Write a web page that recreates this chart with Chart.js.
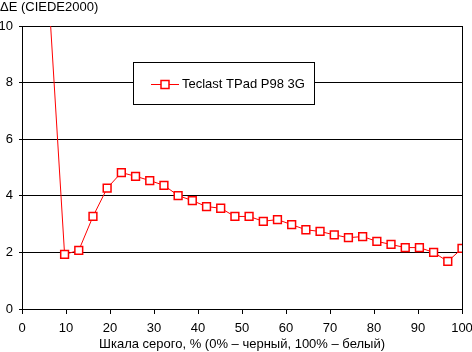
<!DOCTYPE html>
<html><head><meta charset="utf-8">
<script src="https://cdn.jsdelivr.net/npm/chart.js@4"></script>
<style>html,body{margin:0;padding:0;background:#fff}#wrap{width:472px;height:352px}</style>
</head><body><div id="wrap"><canvas id="c" width="472" height="352"></canvas></div>
<script>
const grayLevels = [6.45, 9.68, 12.9, 16.13, 19.35, 22.58, 25.81, 29.03, 32.26, 35.48, 38.71, 41.94, 45.16, 48.39, 51.61, 54.84, 58.06, 61.29, 64.52, 67.74, 70.97, 74.19, 77.42, 80.65, 83.87, 87.1, 90.32, 93.55, 96.77, 100];
const deltaE = [10.15, 1.93, 2.07, 3.27, 4.27, 4.82, 4.69, 4.54, 4.37, 4.01, 3.83, 3.62, 3.56, 3.27, 3.27, 3.10, 3.16, 2.98, 2.80, 2.74, 2.62, 2.52, 2.56, 2.39, 2.28, 2.17, 2.17, 2.00, 1.68, 2.14];
const yTicks = [0, 2, 4, 6, 8, 10];
const xTicks = [0, 10, 20, 30, 40, 50, 60, 70, 80, 90, 100];
const seriesName = 'Teclast TPad P98 3G';
const yTitle = 'ΔE (CIEDE2000)';
const xTitle = 'Шкала серого, % (0% – черный, 100% – белый)';

const FONT = 'Liberation Sans, Arial, sans-serif';
const pts = grayLevels.map((x, i) => ({x: x, y: deltaE[i]}));

const extras = {
  id: 'extras',
  afterDraw(chart) {
    const ctx = chart.ctx, a = chart.chartArea;
    ctx.save();
    ctx.strokeStyle = '#000'; ctx.lineWidth = 1;
    ctx.beginPath(); ctx.moveTo(Math.round(a.right) + 0.5, a.top); ctx.lineTo(Math.round(a.right) + 0.5, a.bottom); ctx.stroke();
    ctx.fillStyle = '#000'; ctx.font = '13px ' + FONT; ctx.textBaseline = 'middle'; ctx.textAlign = 'left';
    ctx.fillText(yTitle, 0, 7);
    ctx.fillStyle = '#fff'; ctx.fillRect(133.5, 62.5, 181, 42);
    ctx.strokeStyle = '#000'; ctx.strokeRect(133.5, 62.5, 181, 42);
    ctx.strokeStyle = '#ff0000'; ctx.lineWidth = 1;
    ctx.beginPath(); ctx.moveTo(151, 84.5); ctx.lineTo(179, 84.5); ctx.stroke();
    ctx.fillStyle = '#fff'; ctx.lineWidth = 1.5;
    ctx.fillRect(161, 80.5, 8, 8); ctx.strokeRect(161, 80.5, 8, 8);
    ctx.fillStyle = '#000'; ctx.font = '13px ' + FONT; ctx.textBaseline = 'middle';
    ctx.fillText(seriesName, 182, 84.5);
    ctx.restore();
  }
};

new Chart(document.getElementById('c'), {
  type: 'line',
  data: { datasets: [{
    label: seriesName,
    data: pts,
    borderColor: '#ff0000',
    borderWidth: 1,
    pointStyle: 'rect',
    pointRadius: pts.map((p, i) => i === 0 ? 0 : 5.5),
    pointBorderWidth: 1.5,
    pointBorderColor: '#ff0000',
    pointBackgroundColor: '#ffffff',
    tension: 0
  }]},
  options: {
    responsive: false, animation: false, devicePixelRatio: 1,
    layout: { padding: { top: 26, right: 10, left: 0, bottom: 0 } },
    plugins: { legend: { display: false }, tooltip: { enabled: false } },
    scales: {
      x: {
        type: 'linear', min: 0, max: 100,
        afterFit(s) { s.height = 43; s.paddingLeft = 0; s.paddingRight = 0; },
        afterBuildTicks(s) { s.ticks = xTicks.map(v => ({value: v})); },
        grid: { drawOnChartArea: false, color: '#000', tickLength: 5, lineWidth: 1 },
        border: { color: '#000', width: 1 },
        ticks: { color: '#000', font: { family: FONT, size: 13 }, padding: 7, maxRotation: 0, autoSkip: false },
        title: { display: true, text: xTitle, color: '#000', font: { family: FONT, size: 13 }, padding: { top: 0, bottom: 0 } }
      },
      y: {
        min: 0, max: 10,
        afterFit(s) { s.width = 22; s.paddingTop = 0; s.paddingBottom = 0; },
        afterBuildTicks(s) { s.ticks = yTicks.map(v => ({value: v})); },
        grid: { color: '#000', tickLength: 3, lineWidth: 1 },
        border: { color: '#000', width: 1 },
        ticks: { color: '#000', font: { family: FONT, size: 13 }, padding: 6 }
      }
    }
  },
  plugins: [extras]
});
</script>
</body></html>
